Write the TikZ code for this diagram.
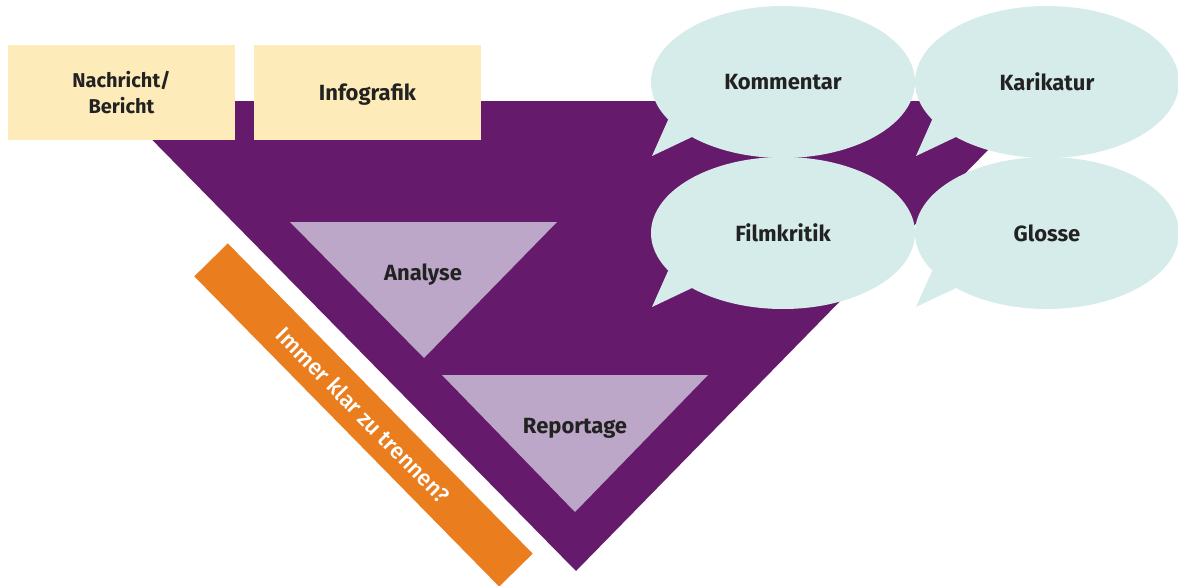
\documentclass[tikz,border=0pt]{standalone}
\usepackage{fontspec}
\setmainfont{Fira Sans}
\IfFontExistsTF{Fira Sans Medium}{\newfontfamily\barfont{Fira Sans Medium}}{\newfontfamily\barfont{Fira Sans}[UprightFont=*-Bold]}
\usetikzlibrary{shapes.geometric}
\definecolor{vpurple}{HTML}{661A6B}
\definecolor{vlilac}{HTML}{BDA7C9}
\definecolor{vbeige}{HTML}{FDEBB9}
\definecolor{vbubble}{HTML}{D6ECEA}
\definecolor{vorange}{HTML}{EA7E1F}
\definecolor{vtext}{HTML}{222222}
\pgfdeclarelayer{bg}
\pgfdeclarelayer{tails}
\pgfsetlayers{bg,tails,main}
\begin{document}
\begin{tikzpicture}[x=1pt,y=-1pt,
  lbl/.style={text=vtext,font=\bfseries\fontsize{22}{26}\selectfont,inner sep=0},
  bubble/.style={ellipse,fill=vbubble,minimum width=264pt,minimum height=152pt,inner sep=0,
     text=vtext,font=\bfseries\fontsize{22}{26}\selectfont},
  beigebox/.style={rectangle,fill=vbeige,minimum width=227pt,minimum height=95pt,inner sep=0,
     align=center,text=vtext},
  orangebar/.style={rectangle,fill=vorange,minimum width=435pt,minimum height=47pt,inner sep=0,
     rotate=-45.5,text=white,font=\barfont\fontsize{22.5}{24}\selectfont},
  tailfill/.style={fill=vbubble}]
\useasboundingbox (0,0) rectangle (1178,586);

\begin{pgfonlayer}{bg}
  \coordinate (tl) at (114,101);
  \coordinate (tr) at (1036,101);
  \coordinate (apex) at (576,571);
  \fill[vpurple] (tl) -- (tr) -- (apex) -- cycle;
  \fill[vlilac] (290,222) -- (557,222) -- (424,358) -- cycle;
  \fill[vlilac] (442,375) -- (708,375) -- (575,512) -- cycle;
\end{pgfonlayer}

\node[lbl,anchor=base] (ana) at (423,280) {Analyse};
\node[lbl,anchor=base] (rep) at (575,433) {Reportage};

\node[beigebox,font=\bfseries\fontsize{20}{26}\selectfont] (nach) at (121.5,92.5) {Nachricht/\\Bericht};
\node[beigebox,font=\bfseries\fontsize{22}{26}\selectfont,text height=16pt,text depth=1pt] (info) at (367.5,92.5) {Infografik};

\node[orangebar] (frage) at (363.5,415) {Immer klar zu trennen?};

\node[bubble] (komm) at (783,82) {Kommentar};
\node[bubble] (kari) at (1047,82) {Karikatur};
\node[bubble] (film) at (783,233) {Filmkritik};
\node[bubble] (glos) at (1047,233) {Glosse};

\begin{pgfonlayer}{tails}
  \foreach \n in {komm,kari,film,glos}
    \fill[tailfill] ([shift={(-131,74)}]\n.center) -- ([shift={(-115,38)}]\n.center)
      -- ([shift={(-78,33)}]\n.center) -- ([shift={(-91,55)}]\n.center) -- cycle;
\end{pgfonlayer}
\end{tikzpicture}
\end{document}
